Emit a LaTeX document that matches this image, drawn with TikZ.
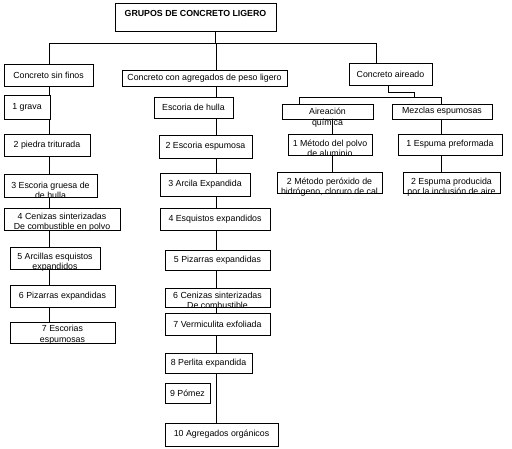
\documentclass[tikz,border=0pt]{standalone}
\usepackage{fontspec}
\setmainfont{Liberation Sans}
\newcommand{\fs}{\fontsize{8.8}{10}\selectfont}
\tikzset{
  box/.style={draw, line width=0.8pt, inner sep=0pt, font=\fs},
  lbl/.style={inner sep=0pt, font=\fs},
  conn/.style={draw, line width=0.8pt}
}
% one-line box: name, x1, y1, x2, y2, text
\newcommand{\bx}[6]{\node[box, minimum width={#4-#2}, minimum height={#5-#3}] (#1) at ({(#2+#4)/2},{(#3+#5)/2}) {#6};}
% two-line box: name, x1, y1, x2, y2, line1, line2, offset1, offset2
\newcommand{\bxx}[9]{\node[box, minimum width={#4-#2}, minimum height={#5-#3}] (#1) at ({(#2+#4)/2},{(#3+#5)/2}) {};
  \node[lbl, anchor=base, yshift=-#8pt] (#1-a) at (#1.north) {#6};
  \node[lbl, anchor=base, yshift=-#9pt] (#1-b) at (#1.north) {#7};}
\begin{document}
\begin{tikzpicture}[x=1pt, y=-1pt]
\useasboundingbox (0,0) rectangle (512,448);
% top
\node[box, minimum width=161, minimum height=28] (top) at (195.5,17) {};
\node[lbl, anchor=base, yshift=-14pt, font=\fs\bfseries] (top-a) at (top.north) {GRUPOS DE CONCRETO LIGERO};
% level 1
\bx{csf}{4}{64}{93}{86}{Concreto sin finos}
\bx{cap}{122}{70}{287}{86}{Concreto con agregados de peso ligero}
\bx{ca}{349}{63}{432}{85}{Concreto aireado}
% left column
\bx{l1}{4}{95}{50}{119}{1 grava}
\bx{l2}{4}{134}{90}{156}{2 piedra triturada}
\bxx{l3}{4}{174}{97}{197}{3 Escoria gruesa de}{de hulla}{15}{25}
\bxx{l4}{4}{208}{120}{230}{4 Cenizas sinterizadas}{De combustible en polvo}{12}{22}
\bxx{l5}{10}{247}{100}{269}{5 Arcillas esquistos}{expandidos}{13}{23}
\bx{l6}{10}{285}{115}{307}{6 Pizarras expandidas}
\bxx{l7}{10}{322}{115}{343}{7 Escorias}{espumosas}{10}{21}
% middle column
\bx{m1}{154}{97}{233}{118}{Escoria de hulla}
\bx{m2}{159}{135}{252}{158}{2 Escoria espumosa}
\bx{m3}{160}{173}{250}{196}{3 Arcila Expandida}
\bx{m4}{160}{208}{270}{230}{4 Esquistos expandidos}
\bx{m5}{165}{250}{270}{270}{5 Pizarras expandidas}
\bxx{m6}{165}{288}{270}{307}{6 Cenizas sinterizadas}{De combustible}{11}{21}
\bx{m7}{165}{313}{270}{335}{7 Vermiculita exfoliada}
\bx{m8}{165}{353}{252}{373}{8 Perlita expandida}
\bx{m9}{165}{383}{210}{403}{9 Pómez}
\bx{m10}{165}{423}{278}{446}{10 Agregados orgánicos}
% right columns
\bxx{aq}{282}{104}{373}{119}{Aireación}{química}{10.5}{21.5}
\bx{me}{392}{104}{492}{119}{Mezclas espumosas}
\bxx{r1}{288}{134}{372}{155}{1 Método del polvo}{de aluminio}{13}{23}
\bxx{r2}{277}{172}{382}{193}{2 Método peróxido de}{hidrógeno, cloruro de cal}{13}{23}
\bx{s1}{398}{134}{502}{155}{1 Espuma preformada}
\bxx{s2}{403}{172}{500}{193}{2 Espuma producida}{por la inclusión de aire}{13}{23}
% column coordinates
\coordinate (j0) at (215,43);
\coordinate (c1) at (49,0);
\coordinate (c2) at (216,0);
\coordinate (c3) at (376,0);
\coordinate (k1) at (388,92);
\coordinate (k2) at (414,92);
\coordinate (k3) at (414,97);
\coordinate (c4) at (299,97);
\coordinate (c5) at (441,97);
\coordinate (c6) at (332,0);
% connectors
\draw[conn] (top.south -| j0) -- (j0);
\draw[conn] (csf.north -| c1) -- (c1 |- j0) -- (c3 |- j0) -- (ca.north -| c3);
\draw[conn] (c2 |- j0) -- (cap.north -| c2);
\draw[conn] (csf.south -| c1) -- (l1.north -| c1);
\foreach \a/\b in {l1/l2,l2/l3,l3/l4,l4/l5,l5/l6,l6/l7}
  \draw[conn] (\a.south -| c1) -- (\b.north -| c1);
\draw[conn] (cap.south -| c2) -- (m1.north -| c2);
\foreach \a/\b in {m1/m2,m2/m3,m3/m4,m4/m5,m5/m6,m6/m7,m7/m8,m8/m10}
  \draw[conn] (\a.south -| c2) -- (\b.north -| c2);
\draw[conn] (ca.south -| k1) -- (k1) -- (k2) -- (k3);
\draw[conn] (aq.north -| c4) -- (c4) -- (c5) -- (me.north -| c5);
\draw[conn] (aq.south -| c6) -- (r1.north -| c6);
\draw[conn] (r1.south -| c6) -- (r2.north -| c6);
\draw[conn] (me.south -| c5) -- (s1.north -| c5);
\draw[conn] (s1.south -| c5) -- (s2.north -| c5);
\end{tikzpicture}
\end{document}
